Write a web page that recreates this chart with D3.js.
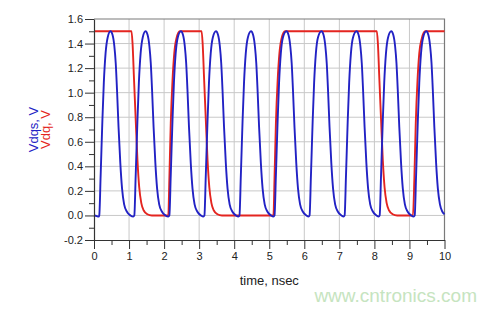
<!DOCTYPE html>
<html>

<head>
    <meta charset="utf-8" />
    <title>Vdqs / Vdq</title>
    <script src="https://d3js.org/d3.v7.min.js"></script>
    <style>
        body {
            margin: 0;
            background: #fff;
        }

        text {
            font-family: "Liberation Sans", Arial, sans-serif;
        }
    </style>
</head>

<body>
    <div id="chart"></div>
</body>

</html>
<script>
    // tick values
    const xTicks = [0, 1, 2, 3, 4, 5, 6, 7, 8, 9, 10];
    const xMinor = [0.5, 1.5, 2.5, 3.5, 4.5, 5.5, 6.5, 7.5, 8.5, 9.5];
    const yTicks = [-0.2, 0.0, 0.2, 0.4, 0.6, 0.8, 1.0, 1.2, 1.4, 1.6];
    const yMinor = [-0.1, 0.1, 0.3, 0.5, 0.7, 0.9, 1.1, 1.3, 1.5];

    // Vdq (red) : [time nsec, volts]
    const vdq = [
        [0.00, 1.50], [1.07, 1.50],
        [1.10, 1.40], [1.14, 1.12], [1.19, 0.78], [1.24, 0.45], [1.29, 0.23], [1.35, 0.10], [1.42, 0.04], [1.52, 0.01], [1.65, 0.00],
        [2.12, 0.00], [2.15, 0.30], [2.19, 0.75], [2.24, 1.10], [2.29, 1.32], [2.35, 1.44], [2.45, 1.50],
        [3.07, 1.50],
        [3.10, 1.40], [3.14, 1.12], [3.19, 0.78], [3.24, 0.45], [3.29, 0.23], [3.35, 0.10], [3.42, 0.04], [3.52, 0.01], [3.65, 0.00],
        [5.12, 0.00], [5.15, 0.30], [5.19, 0.75], [5.24, 1.10], [5.29, 1.32], [5.35, 1.44], [5.45, 1.50],
        [8.07, 1.50],
        [8.10, 1.40], [8.14, 1.12], [8.19, 0.78], [8.24, 0.45], [8.29, 0.23], [8.35, 0.10], [8.42, 0.04], [8.52, 0.01], [8.65, 0.00],
        [9.10, 0.00], [9.14, 0.30], [9.18, 0.75], [9.23, 1.10], [9.28, 1.32], [9.35, 1.44], [9.45, 1.50],
        [10.00, 1.50]
    ];

    // Vdqs (blue) : [time nsec, volts]
    const vdqs = [
        [0.00, 0.00], [0.08, -0.005], [0.13, -0.01],
        [0.15, 0], [0.19, 0.33], [0.24, 0.78], [0.28, 1.08], [0.33, 1.32], [0.39, 1.45], [0.47, 1.50], [0.53, 1.47], [0.58, 1.38], [0.62, 1.24], [0.66, 1.00], [0.70, 0.72], [0.75, 0.43], [0.80, 0.22], [0.86, 0.09], [0.94, 0.03], [1.04, 0.00], [1.12, -0.01],
        [1.15, 0], [1.19, 0.33], [1.24, 0.78], [1.28, 1.08], [1.33, 1.32], [1.39, 1.45], [1.47, 1.50], [1.53, 1.47], [1.58, 1.38], [1.62, 1.24], [1.66, 1.00], [1.70, 0.72], [1.75, 0.43], [1.80, 0.22], [1.86, 0.09], [1.94, 0.03], [2.04, 0.00], [2.12, -0.01],
        [2.15, 0], [2.19, 0.33], [2.24, 0.78], [2.28, 1.08], [2.33, 1.32], [2.39, 1.45], [2.48, 1.50], [2.54, 1.47], [2.59, 1.38], [2.63, 1.24], [2.67, 1.00], [2.71, 0.72], [2.76, 0.43], [2.81, 0.22], [2.87, 0.09], [2.95, 0.03], [3.05, 0.00], [3.12, -0.01],
        [3.15, 0], [3.19, 0.33], [3.24, 0.78], [3.28, 1.08], [3.33, 1.32], [3.39, 1.45], [3.48, 1.50], [3.54, 1.47], [3.59, 1.38], [3.63, 1.24], [3.67, 1.00], [3.71, 0.72], [3.76, 0.43], [3.81, 0.22], [3.87, 0.09], [3.95, 0.03], [4.05, 0.00], [4.12, -0.01],
        [4.15, 0], [4.19, 0.33], [4.24, 0.78], [4.28, 1.08], [4.33, 1.32], [4.39, 1.45], [4.48, 1.50], [4.54, 1.47], [4.59, 1.38], [4.63, 1.24], [4.67, 1.00], [4.71, 0.72], [4.76, 0.43], [4.81, 0.22], [4.87, 0.09], [4.95, 0.03], [5.05, 0.00], [5.12, -0.01],
        [5.15, 0], [5.19, 0.33], [5.24, 0.78], [5.28, 1.08], [5.33, 1.32], [5.39, 1.45], [5.49, 1.50], [5.55, 1.47], [5.60, 1.38], [5.64, 1.24], [5.68, 1.00], [5.72, 0.72], [5.77, 0.43], [5.82, 0.22], [5.88, 0.09], [5.96, 0.03], [6.06, 0.00], [6.12, -0.01],
        [6.15, 0], [6.19, 0.33], [6.24, 0.78], [6.28, 1.08], [6.33, 1.32], [6.39, 1.45], [6.49, 1.50], [6.55, 1.47], [6.60, 1.38], [6.64, 1.24], [6.68, 1.00], [6.72, 0.72], [6.77, 0.43], [6.82, 0.22], [6.88, 0.09], [6.96, 0.03], [7.06, 0.00], [7.12, -0.01],
        [7.15, 0], [7.19, 0.33], [7.24, 0.78], [7.28, 1.08], [7.33, 1.32], [7.39, 1.45], [7.49, 1.50], [7.55, 1.47], [7.60, 1.38], [7.64, 1.24], [7.68, 1.00], [7.72, 0.72], [7.77, 0.43], [7.82, 0.22], [7.88, 0.09], [7.96, 0.03], [8.06, 0.00], [8.12, -0.01],
        [8.15, 0], [8.19, 0.33], [8.24, 0.78], [8.28, 1.08], [8.33, 1.32], [8.39, 1.45], [8.48, 1.50], [8.54, 1.47], [8.59, 1.38], [8.63, 1.24], [8.67, 1.00], [8.71, 0.72], [8.76, 0.43], [8.81, 0.22], [8.87, 0.09], [8.95, 0.03], [9.05, 0.00], [9.12, -0.01],
        [9.15, 0], [9.19, 0.33], [9.24, 0.78], [9.28, 1.08], [9.33, 1.32], [9.39, 1.45], [9.48, 1.50], [9.54, 1.47], [9.59, 1.38], [9.63, 1.24], [9.67, 1.00], [9.71, 0.72], [9.76, 0.43], [9.81, 0.22], [9.87, 0.09], [9.94, 0.03], [10.00, 0.01]
    ];

    const W = 497, H = 312;
    const plot = { left: 94, right: 444.5, top: 19, bottom: 240 };

    const svg = d3.select("#chart")
        .append("svg")
        .attr("width", W)
        .attr("height", H);

    const x = d3.scaleLinear().domain([0, 10]).range([plot.left, plot.right]);
    const y = d3.scaleLinear().domain([-0.2, 1.6]).range([plot.bottom, plot.top]);

    // grid
    svg.append("g")
        .selectAll("line")
        .data(xTicks.slice(1, -1))
        .join("line")
        .attr("x1", d => x(d)).attr("x2", d => x(d))
        .attr("y1", plot.top).attr("y2", plot.bottom)
        .attr("stroke", "#c8c8c8").attr("stroke-width", 1);
    svg.append("g")
        .selectAll("line")
        .data(yTicks.slice(1, -1))
        .join("line")
        .attr("x1", plot.left).attr("x2", plot.right)
        .attr("y1", d => y(d)).attr("y2", d => y(d))
        .attr("stroke", "#c8c8c8").attr("stroke-width", 1);

    // frame top / right
    svg.append("path")
        .attr("d", `M${plot.left},${plot.top}H${plot.right}V${plot.bottom}`)
        .attr("fill", "none")
        .attr("stroke", "#7a7a7a")
        .attr("stroke-width", 1.2);

    // curves
    const line = d3.line()
        .x(d => x(d[0]))
        .y(d => y(d[1]))
        .curve(d3.curveMonotoneX);

    svg.append("path")
        .datum(vdq)
        .attr("d", line)
        .attr("fill", "none")
        .attr("stroke", "#e42520")
        .attr("stroke-width", 1.9);

    svg.append("path")
        .datum(vdqs)
        .attr("d", line)
        .attr("fill", "none")
        .attr("stroke", "#2222c4")
        .attr("stroke-width", 1.9);

    // axes
    const fmtY = d => d.toFixed(1);

    const xAxis = svg.append("g")
        .attr("transform", `translate(0,${plot.bottom})`)
        .call(d3.axisBottom(x).tickValues(xTicks).tickSize(9).tickSizeOuter(0).tickPadding(3).tickFormat(d => d));
    svg.append("g")
        .attr("transform", `translate(0,${plot.bottom})`)
        .call(d3.axisBottom(x).tickValues(xMinor).tickSize(5).tickSizeOuter(0).tickFormat(""))
        .select(".domain").remove();

    const yAxis = svg.append("g")
        .attr("transform", `translate(${plot.left},0)`)
        .call(d3.axisLeft(y).tickValues(yTicks).tickSize(9).tickSizeOuter(0).tickPadding(2).tickFormat(fmtY));
    svg.append("g")
        .attr("transform", `translate(${plot.left},0)`)
        .call(d3.axisLeft(y).tickValues(yMinor).tickSize(5).tickSizeOuter(0).tickFormat(""))
        .select(".domain").remove();

    svg.selectAll(".tick line").attr("stroke", "#333");
    svg.selectAll(".domain").attr("stroke", "#333").attr("stroke-width", 1.2);
    svg.selectAll(".tick text")
        .attr("font-size", 11)
        .attr("fill", "#222")
        .attr("font-family", "'Liberation Sans', Arial, sans-serif");

    // axis titles
    svg.append("text")
        .attr("x", (plot.left + plot.right) / 2)
        .attr("y", 285)
        .attr("text-anchor", "middle")
        .attr("font-size", 13)
        .attr("fill", "#222")
        .text("time, nsec");

    const midY = (plot.top + plot.bottom) / 2;
    svg.append("text")
        .attr("transform", `translate(38,${midY}) rotate(-90)`)
        .attr("text-anchor", "middle")
        .attr("font-size", 13)
        .attr("fill", "#2222c4")
        .text("Vdqs, V");
    svg.append("text")
        .attr("transform", `translate(49.5,${midY}) rotate(-90)`)
        .attr("text-anchor", "middle")
        .attr("font-size", 13)
        .attr("fill", "#e42520")
        .text("Vdq, V");

    // watermark
    svg.append("text")
        .attr("x", 477)
        .attr("y", 302)
        .attr("text-anchor", "end")
        .attr("font-size", 19)
        .attr("fill", "#c6e4c0")
        .text("www.cntronics.com");
</script>
